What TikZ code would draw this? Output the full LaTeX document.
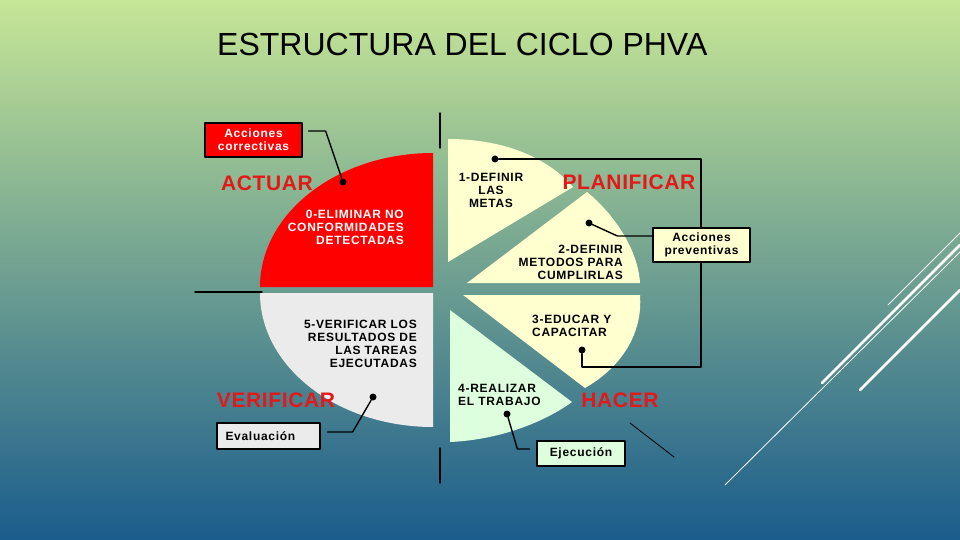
\documentclass[tikz,border=0pt]{standalone}
\usepackage{fontspec}
\setmainfont{Liberation Sans}
\newfontfamily\tagfont[LetterSpace=6]{Liberation Sans}
\newfontfamily\phasefont[LetterSpace=3]{Liberation Sans}

\definecolor{bgtop}{RGB}{198,230,150}
\definecolor{bgmid}{RGB}{108,166,140}
\definecolor{bgbottom}{RGB}{26,92,140}
\definecolor{piecered}{RGB}{255,0,0}
\definecolor{piecegray}{RGB}{235,235,235}
\definecolor{piececream}{RGB}{255,255,208}
\definecolor{piecemint}{RGB}{222,255,222}
\definecolor{phasered}{RGB}{228,24,24}

\begin{document}
\begin{tikzpicture}[x=1pt, y=-1pt, line cap=round, line join=round,
    tag/.style={font=\tagfont\bfseries\fontsize{12}{13}\selectfont, inner sep=0pt},
    phase/.style={font=\phasefont\bfseries\fontsize{21}{24}\selectfont, text=phasered, inner sep=0pt},
    callout/.style={draw=black, line width=1.2pt, font=\tagfont\bfseries\fontsize{12}{13}\selectfont, inner sep=0pt, align=center},
    blackdot/.style={circle, fill=black, inner sep=0pt, minimum size=7pt},
    link/.style={line width=1.4pt}]
  \useasboundingbox (0,0) rectangle (960,540);
  \shade[top color=bgtop, middle color=bgmid, bottom color=bgbottom] (0,0) rectangle (960,540);

  \node[anchor=base west, font=\fontsize{32}{38}\selectfont, inner sep=0pt] (title) at (217,56) {ESTRUCTURA DEL CICLO PHVA};

  \fill[piecered]  (433,287) -- (433,153) arc[start angle=90, end angle=180, x radius=173pt, y radius=134pt] -- cycle;
  \fill[piecegray] (433,293) -- (260,293) arc[start angle=180, end angle=270, x radius=173pt, y radius=134pt] -- cycle;
  \fill[piececream] (448,139) .. controls (500,139) and (545,155) .. (573,187) -- (448,262) -- cycle;
  \fill[piececream] (587,192) .. controls (615,215) and (638,250) .. (640,283) -- (467,283) -- cycle;
  \fill[piececream] (463,295) -- (640,295) .. controls (643,335) and (620,368) .. (585,388) -- cycle;
  \fill[piecemint]  (450,310) -- (572,402) .. controls (540,425) and (495,440) .. (450,442) -- cycle;

  \draw[line width=1.4pt] (440,113) -- (440,148);
  \draw[line width=1.4pt] (195,292) -- (262,292);
  \draw[line width=1.4pt] (440,448) -- (440,483);
  \draw[line width=0.8pt] (630,423) -- (674,457);

  \draw[white, line width=0.8pt] (888,305) -- (960,233);
  \draw[white, line width=2.5pt] (822,383) -- (960,245);
  \draw[white, line width=0.8pt] (725,485) -- (960,252);
  \draw[white, line width=2.5pt] (860,390) -- (960,290);

  \node[blackdot] (dotA) at (343,182) {};
  \node[blackdot] (dotP1) at (495,159) {};
  \node[blackdot] (dotP2) at (589,223) {};
  \node[blackdot] (dotH3) at (582,350) {};
  \node[blackdot] (dotH4) at (507,414) {};
  \node[blackdot] (dotV) at (373,397) {};

  \coordinate (bendNE) at (701,159);
  \coordinate (bendSE) at (701,367);
  \draw[line width=1.6pt] (dotP1) -- (bendNE) -- (bendSE) -| (dotH3);

  \node[callout, fill=piecered, text=white, minimum width=97pt, minimum height=34pt] (corrbox) at (253.5,140) {Acciones\\correctivas};
  \node[callout, fill=piececream, minimum width=97pt, minimum height=34pt] (prevbox) at (701.5,245) {Acciones\\preventivas};
  \node[callout, fill=piecegray, minimum width=103pt, minimum height=26pt, text width=86pt, align=left] (evalbox) at (268.5,436) {Evaluación};
  \node[callout, fill=piecemint, minimum width=88pt, minimum height=25pt] (execbox) at (581,453.5) {Ejecución};

  \node[phase] (actuar) at (267,183) {ACTUAR};
  \node[phase] (planificar) at (629,182) {PLANIFICAR};
  \node[phase] (verificar) at (276,400) {VERIFICAR};
  \node[phase] (hacer) at (620,400) {HACER};

  \node[tag, text=white, align=right, anchor=east] (step0) at (404,227) {0-ELIMINAR NO\\CONFORMIDADES\\DETECTADAS};
  \node[tag, align=center] (step1) at (491,190) {1-DEFINIR\\LAS\\METAS};
  \node[tag, align=right, anchor=east] (step2) at (623,262) {2-DEFINIR\\METODOS PARA\\CUMPLIRLAS};
  \node[tag, align=left, anchor=west] (step3) at (532,326) {3-EDUCAR Y\\CAPACITAR};
  \node[tag, align=left, anchor=west] (step4) at (458,395) {4-REALIZAR\\EL TRABAJO};
  \node[tag, align=right, anchor=east] (step5) at (417,344) {5-VERIFICAR LOS\\RESULTADOS DE\\LAS TAREAS\\EJECUTADAS};

  \draw[link] ([xshift=6pt, yshift=9pt]corrbox.east) -- ++(17,0) -- (dotA);
  \draw[link] ([yshift=9pt]prevbox.west) -- ++(-35,0) -- (dotP2);
  \draw[link] ([xshift=7pt, yshift=4pt]evalbox.east) -- ++(25,0) -- (dotV);
  \draw[link] ([xshift=-7pt, yshift=4.5pt]execbox.west) -- ++(-12,0) -- (dotH4);
\end{tikzpicture}
\end{document}
